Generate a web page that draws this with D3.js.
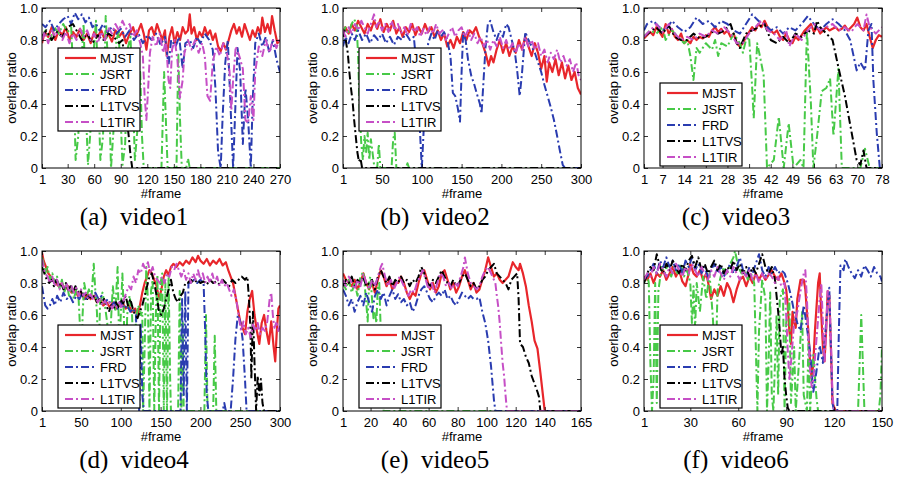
<!DOCTYPE html>
<html>
<head>
<meta charset="utf-8">
<script src="https://cdn.jsdelivr.net/npm/d3@7"></script>
<style>
body { margin: 0; background: #fff; }
svg text { font-family: "Liberation Sans", Arial, Helvetica, sans-serif; }
</style>
</head>
<body>
<svg id="fig" width="899" height="480"></svg>
<script>
// ---- data: [frame, overlap ratio] ----
var names = ["MJST", "JSRT", "FRD", "L1TVS", "L1TIR"];

// video1
var a_mjst = [[1,.78],[4,.85],[8,.82],[12,.88],[16,.8],[20,.86],[24,.83],[28,.88],[32,.8],[36,.85],[40,.82],[44,.87],[48,.8],[52,.84],[56,.78],[60,.85],[64,.82],[68,.86],[72,.8],[76,.84],[80,.79],[84,.86],[88,.82],[92,.85],[96,.78],[100,.84],[104,.88],[107,.82],[110,.86],[113,.9],[116,.84],[119,.74],[122,.86],[125,.88],[128,.83],[131,.9],[134,.85],[137,.8],[140,.86],[142,.7],[145,.82],[148,.88],[151,.78],[154,.85],[157,.8],[160,.88],[163,.84],[166,.86],[168,.96],[170,.84],[173,.88],[176,.8],[179,.85],[182,.82],[185,.88],[188,.83],[191,.86],[194,.8],[197,.84],[200,.76],[203,.73],[206,.78],[209,.74],[212,.8],[215,.86],[218,.9],[221,.84],[224,.88],[227,.82],[230,.9],[233,.85],[236,.8],[239,.86],[242,.82],[245,.88],[248,.84],[250,.94],[253,.85],[256,.9],[259,.84],[261,.95],[264,.86],[267,.78],[270,.8]];
var a_jsrt = [[1,.82],[5,.86],[10,.8],[15,.88],[20,.84],[25,.9],[30,.85],[34,.88],[37,.5],[39,.05],[42,.2],[45,.6],[48,.9],[51,.3],[53,.02],[56,.25],[59,.7],[62,.92],[65,.4],[67,.05],[70,.2],[73,.95],[76,.6],[79,0],[82,.25],[85,.8],[88,.85],[90,.3],[92,.02],[95,.15],[98,.75],[101,.82],[104,.4],[106,.05],[109,.25],[112,.6],[114,.2],[116,0],[136,0],[139,.6],[141,.3],[143,0],[153,0],[155,.72],[157,.3],[159,0],[164,0],[166,.06],[168,0],[270,0]];
var a_frd = [[1,.9],[5,.88],[10,.92],[15,.86],[20,.9],[25,.93],[30,.95],[34,.9],[38,.97],[42,.93],[46,.96],[50,.91],[54,.94],[58,.88],[62,.9],[66,.86],[70,.9],[75,.85],[80,.88],[85,.84],[90,.87],[95,.82],[100,.86],[105,.8],[110,.84],[115,.78],[120,.83],[125,.8],[130,.84],[135,.77],[140,.82],[144,.64],[147,.8],[152,.76],[156,.82],[160,.62],[163,.78],[168,.8],[172,.75],[176,.82],[180,.78],[185,.84],[190,.8],[194,.74],[197,.5],[200,.1],[203,0],[205,.3],[208,.65],[211,.8],[214,.4],[217,0],[219,.3],[222,.75],[225,.6],[228,.15],[231,.5],[234,.3],[237,0],[239,.4],[242,.78],[246,.84],[250,.76],[254,.82],[258,.72],[262,.8],[266,.68],[270,.6]];
var a_l1tvs = [[1,.82],[6,.86],[12,.8],[18,.85],[24,.82],[30,.88],[36,.9],[40,.86],[46,.8],[52,.84],[58,.78],[64,.83],[70,.8],[76,.84],[82,.82],[88,.78],[92,.8],[95,.6],[97,.3],[99,.2],[101,.08],[103,0],[270,0]];
var a_l1tir = [[1,.8],[4,.85],[8,.78],[12,.86],[16,.82],[20,.88],[24,.8],[28,.85],[32,.78],[36,.84],[40,.8],[44,.87],[48,.82],[52,.86],[56,.8],[60,.84],[64,.78],[68,.85],[72,.8],[76,.88],[80,.84],[84,.9],[88,.86],[92,.92],[96,.87],[100,.9],[104,.82],[108,.86],[112,.78],[115,.7],[117,.45],[119,.3],[121,.5],[123,.72],[126,.82],[130,.76],[134,.84],[138,.72],[141,.8],[144,.55],[146,.5],[148,.74],[151,.8],[154,.68],[157,.44],[160,.55],[162,.72],[166,.8],[170,.74],[174,.8],[178,.72],[182,.78],[185,.7],[188,.45],[191,.42],[194,.66],[198,.76],[202,.7],[206,.78],[210,.72],[213,.6],[215,.36],[217,.55],[220,.76],[224,.7],[228,.62],[231,.3],[234,.28],[237,.45],[240,.3],[242,.6],[246,.76],[250,.7],[254,.8],[258,.72],[262,.8],[266,.75],[270,.82]];

// video2
var b_mjst = [[1,.84],[4,.88],[8,.84],[12,.9],[16,.86],[20,.92],[24,.88],[28,.84],[32,.9],[36,.86],[40,.92],[44,.87],[48,.93],[52,.85],[56,.9],[60,.86],[64,.92],[68,.84],[72,.88],[76,.82],[80,.88],[84,.85],[88,.9],[92,.83],[96,.88],[100,.84],[104,.9],[108,.85],[112,.88],[116,.82],[120,.86],[124,.8],[128,.84],[132,.76],[136,.8],[140,.75],[144,.82],[148,.78],[152,.85],[156,.8],[160,.86],[164,.84],[168,.88],[172,.82],[176,.78],[180,.72],[184,.64],[187,.7],[190,.66],[194,.74],[198,.8],[202,.72],[206,.78],[210,.7],[214,.76],[218,.72],[222,.8],[226,.74],[230,.82],[234,.76],[238,.7],[242,.78],[246,.72],[250,.62],[254,.7],[257,.54],[260,.66],[264,.6],[268,.68],[272,.58],[276,.66],[280,.56],[284,.64],[288,.55],[292,.6],[296,.5],[300,.46]];
var b_jsrt = [[1,.84],[4,.88],[8,.85],[12,.9],[15,.93],[18,.9],[20,.7],[22,.35],[24,.15],[26,.05],[28,.2],[30,.1],[32,.22],[34,.05],[36,.18],[38,.1],[40,.02],[44,0],[46,.15],[48,0],[62,0],[64,.18],[66,.22],[68,0],[80,0],[82,.03],[84,0],[300,0]];
var b_frd = [[1,.76],[4,.82],[8,.78],[12,.84],[16,.8],[20,.86],[25,.8],[30,.84],[35,.78],[40,.83],[45,.8],[50,.84],[55,.78],[60,.82],[65,.77],[70,.82],[75,.8],[80,.84],[85,.8],[90,.82],[94,.6],[97,.3],[100,0],[102,.2],[105,.55],[108,.78],[112,.84],[116,.8],[120,.86],[124,.82],[128,.85],[132,.8],[136,.7],[139,.47],[142,.45],[145,.38],[148,.29],[150,.6],[152,.85],[155,.8],[158,.68],[162,.58],[166,.52],[170,.45],[173,.4],[175,.34],[177,.5],[180,.75],[183,.9],[186,.92],[190,.85],[194,.8],[198,.86],[202,.82],[206,.9],[209,.88],[213,.8],[217,.72],[220,.6],[223,.45],[226,.6],[230,.85],[234,.8],[238,.76],[242,.72],[246,.66],[250,.6],[254,.52],[258,.45],[262,.38],[266,.3],[270,.2],[273,.12],[277,.02],[280,0],[300,0]];
var b_l1tvs = [[1,.82],[3,.86],[5,.78],[7,.72],[9,.6],[11,.5],[13,.42],[15,.3],[17,.2],[19,.1],[21,.04],[23,.06],[25,0],[300,0]];
var b_l1tir = [[1,.86],[4,.82],[8,.88],[12,.84],[16,.9],[20,.86],[24,.92],[28,.88],[32,.84],[36,.9],[40,.96],[43,.88],[46,.92],[50,.86],[54,.9],[58,.85],[62,.92],[66,.86],[70,.9],[74,.84],[78,.88],[82,.83],[86,.9],[90,.85],[94,.88],[98,.82],[102,.87],[106,.83],[110,.88],[114,.84],[118,.9],[122,.84],[126,.86],[130,.8],[134,.84],[138,.88],[142,.82],[146,.86],[150,.88],[154,.82],[158,.86],[162,.8],[166,.84],[170,.78],[174,.82],[178,.76],[182,.8],[186,.74],[190,.8],[194,.76],[198,.82],[202,.75],[206,.8],[210,.74],[214,.78],[218,.72],[222,.78],[226,.74],[230,.82],[234,.76],[238,.8],[242,.74],[246,.78],[250,.7],[254,.74],[258,.66],[262,.72],[266,.68],[270,.74],[274,.66],[278,.7],[282,.64],[286,.68],[290,.6],[294,.66],[297,.58],[300,.55]];

// video3
var c_mjst = [[1,.81],[3,.85],[4,.83],[5,.88],[6,.85],[7,.82],[8,.9],[9,.84],[10,.87],[11,.82],[12,.8],[13,.84],[14,.78],[15,.8],[16,.78],[17,.82],[18,.8],[19,.82],[20,.81],[21,.83],[22,.82],[23,.86],[24,.88],[25,.85],[26,.87],[27,.84],[28,.86],[29,.82],[30,.84],[31,.78],[32,.76],[33,.78],[34,.82],[35,.85],[36,.88],[37,.86],[38,.9],[39,.88],[40,.92],[41,.88],[42,.86],[43,.84],[44,.86],[45,.82],[46,.8],[47,.84],[48,.8],[49,.78],[50,.82],[51,.8],[52,.83],[53,.86],[54,.88],[55,.9],[56,.85],[57,.88],[58,.84],[59,.86],[60,.88],[61,.86],[62,.87],[63,.88],[64,.86],[65,.87],[66,.89],[67,.86],[68,.88],[69,.9],[70,.94],[71,.88],[72,.86],[73,.9],[74,.82],[75,.75],[76,.8],[77,.83],[78,.82]];
var c_jsrt = [[1,.82],[3,.86],[5,.84],[7,.88],[8,.8],[10,.86],[12,.82],[14,.78],[15,.8],[16,.7],[17,.55],[18,.75],[19,.72],[21,.78],[23,.74],[24,.8],[25,.7],[26,.78],[28,.76],[30,.84],[32,.78],[33,.72],[34,.8],[35,.82],[36,.5],[36.5,.31],[37.6,.78],[38.5,.7],[39.7,.58],[40.8,0],[43,.05],[44.6,.32],[46.2,0],[47.8,.28],[49.4,0],[51.6,.05],[52.6,0],[53.7,.86],[55,.4],[55.8,0],[57,.2],[58.5,.48],[60,.5],[61.2,.56],[62.3,.2],[63.9,.62],[65,0],[71,0],[72.5,.12],[74,0],[78,0]];
var c_frd = [[1,.86],[2,.9],[4,.92],[6,.88],[8,.86],[10,.92],[12,.88],[14,.85],[16,.88],[18,.94],[20,.9],[22,.92],[24,.88],[26,.92],[28,.9],[30,.86],[32,.84],[34,.9],[36,.96],[38,.92],[40,.9],[42,.86],[44,.88],[46,.84],[48,.88],[50,.86],[52,.9],[54,.95],[56,.9],[58,.86],[60,.9],[62,.93],[64,.9],[66,.86],[67.7,.8],[69.8,.61],[71,.66],[72.5,.61],[73.6,.86],[74.6,.9],[75.2,.55],[76.3,.22],[77.3,0],[78,0]];
var c_l1tvs = [[1,.82],[3,.85],[5,.88],[7,.84],[9,.89],[11,.82],[13,.8],[15,.8],[17,.84],[19,.81],[21,.82],[23,.85],[25,.84],[27,.86],[29,.9],[31,.78],[32,.75],[34,.84],[36,.86],[38,.88],[40,.9],[42,.8],[44,.78],[46,.82],[48,.78],[50,.84],[52,.82],[54,.86],[56,.84],[57,.92],[58,.88],[60,.84],[62,.8],[64,.62],[66,.45],[68,.24],[69.8,.05],[71,.02],[72,.11],[73,0],[78,0]];
var c_l1tir = [[1,.82],[3,.86],[5,.9],[7,.85],[9,.9],[11,.84],[13,.8],[15,.82],[17,.8],[19,.84],[21,.82],[23,.86],[25,.84],[27,.88],[29,.84],[31,.78],[33,.78],[35,.84],[37,.88],[39,.92],[41,.86],[43,.84],[45,.8],[47,.86],[48,.76],[50,.84],[52,.8],[54,.86],[56,.9],[58,.86],[60,.88],[62,.9],[64,.86],[66,.88],[68,.85],[70,.9],[72,.86],[73,.96],[74,.88],[76,.84],[78,.88]];

// video4
var d_mjst = [[1,.99],[3,.94],[6,.9],[9,.86],[12,.84],[15,.82],[18,.8],[22,.78],[26,.8],[30,.76],[34,.78],[38,.74],[42,.76],[46,.72],[50,.74],[54,.7],[58,.73],[62,.7],[66,.72],[70,.68],[74,.7],[78,.66],[82,.68],[86,.65],[90,.68],[94,.64],[98,.66],[102,.68],[106,.64],[110,.66],[114,.62],[118,.64],[121,.6],[124,.66],[127,.74],[130,.8],[133,.84],[136,.88],[139,.86],[142,.82],[145,.78],[148,.7],[151,.76],[154,.84],[157,.88],[160,.85],[163,.9],[166,.92],[170,.9],[174,.93],[178,.91],[182,.94],[186,.92],[190,.96],[194,.93],[197,.97],[200,.94],[204,.92],[208,.95],[212,.91],[216,.94],[220,.92],[224,.95],[228,.91],[232,.93],[235,.88],[238,.84],[241,.8],[244,.72],[247,.64],[250,.56],[253,.52],[256,.48],[259,.62],[262,.7],[265,.75],[268,.6],[271,.5],[274,.42],[277,.55],[280,.6],[283,.5],[286,.42],[289,.56],[292,.4],[294,.31],[296,.5],[298,.64],[300,.66]];
var d_jsrt = [[1,.96],[3,.92],[5,.86],[8,.9],[11,.82],[14,.86],[17,.8],[20,.84],[23,.76],[26,.82],[29,.74],[32,.8],[35,.72],[38,.78],[41,.7],[44,.76],[47,.7],[49,.5],[50,.05],[52,.6],[54,.8],[57,.72],[60,.76],[63,.7],[66,.92],[68,.75],[70,.62],[72,.3],[74,.68],[77,.74],[80,.66],[83,.55],[85,.05],[87,.5],[90,.78],[93,.62],[96,.9],[98,.4],[100,.6],[102,.86],[104,.56],[106,.1],[108,.6],[111,.72],[114,.62],[117,.2],[119,.58],[122,.66],[125,.6],[127,.62],[128,0],[130,.4],[132,.9],[134,.7],[136,0],[138,.75],[140,.82],[142,0],[144,.6],[146,.85],[148,0],[150,.8],[152,.86],[154,0],[156,.8],[158,0],[160,.85],[162,.2],[163,0],[172,0],[174,.75],[176,0],[178,.55],[179,0],[205,0],[207,.6],[209,0],[216,0],[218,.47],[220,0],[300,0]];
var d_frd = [[1,.78],[3,.72],[5,.66],[8,.64],[11,.66],[14,.7],[17,.66],[20,.72],[24,.68],[28,.74],[32,.7],[36,.72],[40,.68],[44,.72],[48,.7],[52,.74],[56,.7],[60,.72],[64,.7],[68,.74],[72,.7],[76,.72],[80,.68],[84,.7],[88,.66],[92,.68],[96,.64],[100,.68],[104,.64],[108,.66],[112,.62],[116,.64],[119,.6],[121,.3],[123,0],[125,.55],[127,.1],[129,0],[175,0],[177,.7],[179,.1],[181,.75],[183,0],[185,.8],[188,.8],[192,.82],[196,.8],[200,.82],[204,.8],[206,.5],[208,.1],[210,0],[228,0],[230,.05],[232,0],[238,0],[241,.2],[244,.45],[247,.6],[250,.56],[253,.45],[256,.2],[258,0],[300,0]];
var d_l1tvs = [[1,.9],[4,.86],[7,.82],[10,.8],[13,.82],[16,.78],[19,.82],[22,.78],[25,.8],[28,.76],[31,.8],[34,.76],[37,.78],[40,.74],[43,.78],[46,.74],[49,.76],[52,.72],[55,.74],[58,.7],[61,.72],[64,.7],[67,.72],[70,.68],[73,.7],[76,.67],[79,.7],[82,.66],[85,.62],[88,.66],[91,.64],[94,.68],[97,.65],[100,.7],[103,.67],[106,.72],[109,.66],[112,.7],[115,.64],[118,.6],[121,.58],[124,.62],[127,.66],[130,.72],[133,.78],[136,.84],[139,.86],[142,.8],[145,.72],[148,.62],[151,.6],[154,.64],[157,.7],[160,.76],[163,.82],[166,.74],[169,.7],[172,.68],[175,.72],[178,.74],[181,.8],[184,.8],[188,.82],[192,.8],[196,.82],[200,.8],[204,.81],[208,.79],[212,.82],[216,.8],[220,.81],[224,.79],[228,.82],[232,.8],[236,.78],[240,.82],[244,.8],[248,.82],[252,.84],[256,.82],[259,.84],[261,.7],[263,.5],[264,.2],[266,.62],[268,.3],[270,0],[272,.22],[274,.1],[276,.2],[278,.05],[280,0],[300,0]];
var d_l1tir = [[1,.95],[3,.9],[5,.86],[8,.84],[11,.8],[14,.84],[17,.78],[20,.82],[23,.76],[26,.8],[29,.76],[32,.8],[35,.74],[38,.78],[41,.74],[44,.77],[47,.72],[50,.76],[53,.72],[56,.74],[59,.7],[62,.73],[65,.7],[68,.72],[71,.68],[74,.7],[77,.66],[80,.69],[83,.66],[86,.68],[89,.64],[92,.67],[95,.65],[98,.68],[101,.64],[104,.7],[107,.74],[110,.78],[113,.76],[116,.84],[119,.8],[122,.88],[125,.86],[128,.92],[131,.88],[134,.93],[137,.86],[140,.9],[143,.84],[146,.82],[149,.8],[152,.84],[155,.8],[158,.86],[161,.84],[164,.9],[167,.88],[170,.92],[173,.88],[176,.84],[179,.88],[182,.82],[185,.86],[188,.8],[191,.86],[194,.82],[197,.88],[200,.82],[203,.86],[206,.8],[209,.84],[212,.8],[215,.86],[218,.8],[221,.84],[224,.78],[227,.82],[230,.78],[233,.8],[236,.76],[239,.72],[242,.76],[245,.7],[248,.6],[251,.5],[254,.56],[257,.48],[260,.52],[263,.46],[266,.54],[269,.5],[272,.55],[275,.48],[278,.52],[281,.5],[284,.56],[287,.7],[289,.74],[291,.6],[293,.52],[296,.56],[298,.5],[300,.54]];

// video5
var e_mjst = [[1,.86],[3,.82],[5,.8],[7,.78],[9,.82],[11,.76],[13,.8],[15,.86],[17,.8],[19,.76],[21,.8],[23,.74],[25,.82],[27,.88],[29,.84],[31,.78],[33,.82],[35,.76],[37,.8],[39,.8],[41,.84],[43,.8],[45,.74],[47,.7],[49,.74],[51,.72],[53,.8],[55,.86],[57,.88],[59,.82],[61,.76],[63,.8],[65,.74],[67,.78],[69,.86],[71,.88],[73,.82],[75,.76],[77,.8],[79,.74],[81,.78],[83,.84],[85,.88],[87,.82],[89,.76],[91,.8],[93,.74],[95,.76],[97,.82],[99,.88],[101,.96],[103,.9],[105,.84],[107,.86],[109,.82],[111,.8],[113,.82],[115,.84],[117,.9],[118,.93],[120,.9],[122,.88],[123,.92],[125,.86],[127,.78],[129,.66],[131,.56],[133,.44],[135,.39],[137,.24],[139,.08],[140,0],[165,0]];
var e_jsrt = [[1,.8],[3,.76],[5,.82],[7,.74],[9,.8],[11,.72],[13,.84],[15,.87],[16,.78],[17,.68],[18,.56],[19,.82],[20,.84],[21,.7],[22,.58],[23,.62],[24,.55],[25,.78],[26,.8],[27,.5],[28,.2],[29,0],[165,0]];
var e_frd = [[1,.76],[3,.72],[5,.66],[7,.7],[9,.62],[11,.68],[13,.72],[15,.66],[17,.74],[19,.68],[21,.62],[23,.72],[25,.76],[27,.7],[29,.74],[31,.66],[33,.72],[35,.76],[37,.7],[39,.73],[41,.68],[43,.7],[45,.66],[47,.68],[49,.62],[51,.66],[53,.72],[55,.76],[57,.78],[59,.74],[61,.7],[63,.68],[65,.72],[67,.74],[69,.72],[71,.76],[73,.7],[75,.72],[77,.68],[79,.66],[81,.7],[83,.74],[85,.72],[87,.7],[89,.72],[91,.7],[93,.7],[95,.71],[97,.62],[99,.55],[101,.44],[103,.28],[105,.07],[106,0],[165,0]];
var e_l1tvs = [[1,.78],[3,.82],[5,.8],[7,.84],[9,.78],[11,.82],[13,.8],[15,.84],[17,.78],[19,.8],[21,.82],[23,.76],[25,.84],[27,.88],[29,.84],[31,.8],[33,.84],[35,.78],[37,.82],[39,.8],[41,.84],[43,.8],[45,.82],[47,.78],[49,.82],[51,.8],[53,.84],[55,.9],[57,.86],[59,.8],[61,.78],[63,.82],[65,.8],[67,.84],[69,.88],[71,.84],[73,.8],[75,.78],[77,.82],[79,.78],[81,.8],[83,.84],[85,.86],[87,.82],[89,.78],[91,.8],[93,.76],[95,.78],[97,.82],[99,.84],[101,.88],[103,.9],[105,.92],[107,.86],[109,.84],[111,.82],[113,.8],[115,.76],[117,.82],[119,.84],[121,.86],[122,.7],[123,.42],[125,.4],[127,.34],[129,.3],[131,.22],[133,.17],[135,.12],[136,.09],[137,0],[165,0]];
var e_l1tir = [[1,.82],[3,.78],[5,.84],[7,.8],[9,.76],[11,.82],[13,.78],[15,.86],[17,.8],[19,.76],[21,.82],[23,.78],[25,.84],[27,.9],[28,.92],[30,.84],[32,.78],[34,.82],[36,.76],[38,.8],[40,.84],[42,.8],[44,.76],[46,.72],[48,.76],[50,.74],[52,.8],[54,.84],[56,.88],[58,.82],[60,.76],[62,.8],[64,.74],[66,.8],[68,.86],[70,.84],[72,.78],[74,.8],[76,.76],[78,.8],[80,.78],[82,.84],[84,.9],[85,.96],[87,.86],[89,.8],[91,.78],[93,.76],[95,.78],[97,.84],[99,.88],[101,.9],[103,.86],[105,.82],[106,.8],[107,.72],[108,.65],[109,.55],[110,.42],[111,.3],[112,.22],[113,.1],[114,0],[165,0]];

// video6
var f_mjst = [[1,.84],[3,.82],[5,.86],[7,.8],[9,.86],[11,.84],[13,.88],[15,.82],[17,.86],[19,.9],[21,.84],[23,.88],[25,.81],[27,.78],[29,.86],[30,.92],[32,.86],[34,.84],[36,.88],[38,.82],[40,.86],[42,.76],[43,.7],[45,.76],[47,.72],[49,.78],[51,.72],[53,.8],[55,.76],[57,.68],[59,.76],[61,.82],[63,.84],[65,.78],[67,.84],[69,.8],[71,.86],[73,.82],[75,.86],[77,.82],[79,.85],[81,.88],[83,.84],[85,.82],[87,.86],[89,.8],[90,.76],[91,.66],[92,.5],[93,.42],[94,.62],[95,.55],[96,.52],[97,.7],[99,.82],[101,.82],[102,.76],[103,.62],[104,.48],[105,.3],[106,.2],[107,.3],[108,.5],[110,.8],[111,.86],[112,.6],[113,.4],[114,.31],[115,.5],[116,.75],[117,.72],[118,.4],[119,.05],[121,0],[150,0]];
var f_jsrt = [[1,.8],[3,.86],[4,.8],[5,.3],[6,0],[7,.2],[8,.8],[9,.05],[10,.75],[12,.9],[14,.86],[16,.92],[18,.84],[20,.9],[22,.86],[24,.92],[26,.84],[28,.88],[30,.8],[31,.55],[32,.78],[33,.52],[34,.8],[36,.62],[38,.84],[40,.7],[42,.86],[44,.6],[45,.42],[46,.3],[47,.75],[49,.84],[51,.9],[53,.86],[55,.92],[57,.96],[58,1],[60,.9],[62,.86],[64,.88],[66,.82],[68,.86],[70,.8],[71,.4],[72,0],[73,.5],[75,.82],[77,.7],[78,0],[79,.3],[80,.74],[81,.1],[82,0],[84,.6],[85,.1],[86,.7],[88,.76],[89,0],[90,.55],[92,.7],[93,.05],[95,.4],[96,0],[98,.3],[100,.62],[101,.1],[103,0],[104,.45],[105,0],[107,.35],[109,.08],[110,0],[135,0],[137,.6],[138,.3],[139,0],[148,0],[149,.1],[150,.4]];
var f_frd = [[1,.82],[3,.84],[5,.88],[7,.92],[9,.86],[11,.94],[13,.9],[15,.96],[17,.9],[19,.94],[21,.88],[23,.92],[25,.86],[27,.94],[29,.9],[31,.96],[33,.88],[35,.92],[37,.86],[39,.9],[41,.84],[43,.88],[45,.92],[47,.86],[49,.9],[51,.84],[53,.88],[55,.92],[57,.86],[59,.9],[61,.96],[63,.88],[65,.84],[67,.9],[69,.86],[71,.92],[73,.98],[75,.88],[77,.84],[79,.9],[81,.86],[83,.9],[85,.86],[87,.88],[89,.86],[91,.8],[93,.72],[95,.62],[97,.55],[99,.5],[101,.66],[103,.52],[105,.37],[107,.12],[109,.25],[111,.41],[113,.3],[115,.55],[117,.77],[118,.4],[119,.05],[120,0],[122,0],[123,.5],[124,.91],[126,.88],[127,.95],[129,.9],[131,.86],[133,.83],[135,.88],[137,.84],[139,.91],[141,.88],[143,.84],[145,.9],[147,.86],[149,.84],[150,.81]];
var f_l1tvs = [[1,.8],[3,.86],[5,.9],[7,.88],[9,.98],[11,.9],[13,.86],[15,.92],[17,.88],[19,.94],[21,.9],[23,.86],[25,.92],[27,.88],[29,.94],[31,.97],[33,.9],[35,.96],[37,.88],[39,.92],[41,.86],[43,.9],[45,.94],[47,.88],[49,.92],[51,.86],[53,.9],[55,.88],[57,.94],[59,.88],[61,.92],[63,.86],[65,.9],[67,.84],[69,.9],[71,.86],[73,.92],[75,.98],[77,.9],[79,.86],[81,.9],[83,.82],[84,.72],[85,.62],[86,.5],[87,.35],[88,.4],[89,.2],[90,.1],[91,.02],[92,0],[150,0]];
var f_l1tir = [[1,.82],[3,.86],[5,.84],[7,.9],[9,.86],[11,.92],[13,.88],[15,.84],[17,.9],[19,.86],[21,.92],[23,.88],[25,.84],[27,.9],[29,.86],[31,.92],[33,.88],[35,.84],[37,.9],[39,.86],[41,.82],[43,.88],[45,.84],[47,.9],[49,.86],[51,.82],[53,.88],[55,.84],[57,.9],[59,.86],[61,.82],[63,.88],[65,.84],[67,.88],[69,.82],[71,.86],[73,.8],[75,.86],[77,.82],[79,.86],[81,.84],[83,.8],[85,.84],[87,.78],[89,.8],[90,.6],[91,.38],[92,.2],[93,.3],[95,.55],[97,.62],[99,.75],[101,.86],[102,.88],[103,.7],[104,.45],[105,.25],[106,.15],[107,.2],[109,.45],[111,.7],[112,.8],[113,.55],[114,.3],[115,.5],[116,.75],[117,.72],[118,.45],[119,.1],[120,0],[150,0]];

var yTicks = [0, 0.2, 0.4, 0.6, 0.8, 1.0];
var panels = [
  {cap: "(a)", title: "video1", last: 270, ticks: [1,30,60,90,120,150,180,210,240,270], series: [a_mjst, a_jsrt, a_frd, a_l1tvs, a_l1tir]},
  {cap: "(b)", title: "video2", last: 300, ticks: [1,50,100,150,200,250,300], series: [b_mjst, b_jsrt, b_frd, b_l1tvs, b_l1tir]},
  {cap: "(c)", title: "video3", last: 78, ticks: [1,7,14,21,28,35,42,49,56,63,70,78], series: [c_mjst, c_jsrt, c_frd, c_l1tvs, c_l1tir]},
  {cap: "(d)", title: "video4", last: 300, ticks: [1,50,100,150,200,250,300], series: [d_mjst, d_jsrt, d_frd, d_l1tvs, d_l1tir]},
  {cap: "(e)", title: "video5", last: 165, ticks: [1,20,40,60,80,100,120,140,165], series: [e_mjst, e_jsrt, e_frd, e_l1tvs, e_l1tir]},
  {cap: "(f)", title: "video6", last: 150, ticks: [1,30,60,90,120,150], series: [f_mjst, f_jsrt, f_frd, f_l1tvs, f_l1tir]}
];

// ---- layout / style ----
var colLeft = [42, 343, 644], rowTop = [8, 251];
var pw = 238, ph = 160;
var legTop = [40, 40, 75, 74, 74, 74];
var colors = ["#e8262b", "#47c947", "#2a3cb0", "#000000", "#c64fc6"];
var dashes = [null, "8,3,2,3", "8,3,2,3", "8,3,2,3", "8,3,2,3"];
var widths = [2.2, 2, 2, 2, 2];

var svg = d3.select("#fig");

panels.forEach(function(p, i) {
  var left = colLeft[i % 3], top = rowTop[Math.floor(i / 3)];
  var bottom = top + ph, right = left + pw;

  var x = d3.scaleLinear().domain([1, p.last]).range([left, right]);
  var y = d3.scaleLinear().domain([0, 1]).range([bottom, top]);

  var g = svg.append("g");

  g.append("clipPath").attr("id", "clip" + i)
    .append("rect").attr("x", left).attr("y", top).attr("width", pw).attr("height", ph);

  var line = d3.line().x(d => x(d[0])).y(d => y(d[1]));

  var lines = g.append("g").attr("clip-path", "url(#clip" + i + ")");
  p.series.forEach(function(s, k) {
    lines.append("path")
      .attr("d", line(s))
      .attr("fill", "none")
      .attr("stroke", colors[k])
      .attr("stroke-width", widths[k])
      .attr("stroke-dasharray", dashes[k])
      .attr("stroke-linejoin", "round");
  });

  // axes, ticks inward on all four sides
  var fmtY = d => d === 0 ? "0" : d3.format(".1f")(d);
  var styleAxis = function(sel) {
    sel.select(".domain").remove();
    sel.selectAll(".tick line").attr("stroke", "#000").attr("stroke-width", 0.8);
    sel.selectAll("text").attr("fill", "#000")
      .style("font-family", "'Liberation Sans', Arial, sans-serif").style("font-size", "13px");
  };
  g.append("g").attr("transform", "translate(0," + bottom + ")")
    .call(d3.axisBottom(x).tickValues(p.ticks).tickFormat(d3.format("d")).tickSize(-4).tickPadding(7))
    .call(styleAxis);
  g.append("g").attr("transform", "translate(0," + top + ")")
    .call(d3.axisTop(x).tickValues(p.ticks).tickFormat("").tickSize(-4))
    .call(styleAxis);
  g.append("g").attr("transform", "translate(" + left + ",0)")
    .call(d3.axisLeft(y).tickValues(yTicks).tickFormat(fmtY).tickSize(-4).tickPadding(4))
    .call(styleAxis);
  g.append("g").attr("transform", "translate(" + right + ",0)")
    .call(d3.axisRight(y).tickValues(yTicks).tickFormat("").tickSize(-4))
    .call(styleAxis);

  g.append("rect").attr("x", left).attr("y", top).attr("width", pw).attr("height", ph)
    .attr("fill", "none").attr("stroke", "#000").attr("stroke-width", 1);

  // axis titles
  g.append("text").attr("x", (left + right) / 2).attr("y", bottom + 30)
    .attr("text-anchor", "middle").style("font-size", "13px").text("#frame");
  g.append("text")
    .attr("transform", "translate(" + (left - 26) + "," + (top + ph / 2) + ") rotate(-90)")
    .attr("text-anchor", "middle").style("font-size", "13px").text("overlap ratio");

  // legend
  var lx = left + 16, ly = top + legTop[i];
  var leg = g.append("g");
  leg.append("rect").attr("x", lx).attr("y", ly).attr("width", 82).attr("height", 83)
    .attr("fill", "#fff").attr("stroke", "#000").attr("stroke-width", 1.2);
  names.forEach(function(n, k) {
    var yy = ly + 10 + k * 16;
    leg.append("line").attr("x1", lx + 7).attr("x2", lx + 38).attr("y1", yy).attr("y2", yy)
      .attr("stroke", colors[k]).attr("stroke-width", widths[k]).attr("stroke-dasharray", dashes[k]);
    leg.append("text").attr("x", lx + 42).attr("y", yy).attr("dy", "0.36em")
      .style("font-size", "13px").text(n);
  });

  // caption
  g.append("text").attr("x", left + 92).attr("y", bottom + 57)
    .attr("text-anchor", "middle")
    .style("font-family", "'Liberation Serif', 'Times New Roman', serif")
    .style("font-size", "25px").style("white-space", "pre")
    .text(p.cap + "  " + p.title);
});
</script>
</body>
</html>
